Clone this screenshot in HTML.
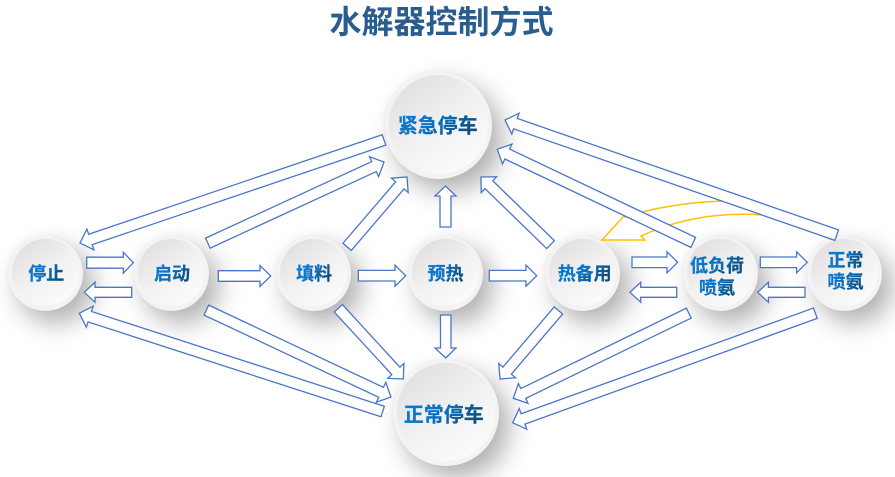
<!DOCTYPE html>
<html><head><meta charset="utf-8"><style>
html,body{margin:0;padding:0;background:#fff}
#p{position:relative;width:895px;height:477px;overflow:hidden;background:#fff}
.n{position:absolute;border-radius:50%;background:#f3f3f3;box-shadow:10px 12px 26px rgba(0,0,0,.32),-1px -1px 4px rgba(0,0,0,.03)}
.n i{position:absolute;left:4px;top:3px;right:4px;bottom:5px;border-radius:50%;background:linear-gradient(145deg,#dfdcdc 5%,#f2f1f1 50%,#fcfcfc 90%)}
svg{position:absolute;left:0;top:0}
text{font-family:"Liberation Sans","Noto Sans CJK SC",sans-serif;font-weight:700;text-anchor:middle;fill:url(#tg);stroke:url(#tg);stroke-width:.25}
.a polygon{fill:#fff;stroke:#4a76c6;stroke-width:1.3}
</style></head><body><div id="p">
<div class="n" style="left:8px;top:236px;width:75px;height:75px"><i></i></div>
<div class="n" style="left:134px;top:236px;width:75px;height:75px"><i></i></div>
<div class="n" style="left:276px;top:236px;width:75px;height:75px"><i></i></div>
<div class="n" style="left:408px;top:236px;width:75px;height:75px"><i></i></div>
<div class="n" style="left:545px;top:236px;width:75px;height:75px"><i></i></div>
<div class="n" style="left:683px;top:236px;width:75px;height:75px"><i></i></div>
<div class="n" style="left:807px;top:236px;width:75px;height:75px"><i></i></div>
<div class="n" style="left:385px;top:72px;width:107px;height:107px"><i></i></div>
<div class="n" style="left:393px;top:360px;width:106px;height:106px"><i></i></div>
<svg width="895" height="477" viewBox="0 0 895 477" xmlns="http://www.w3.org/2000/svg">
<defs><linearGradient id="tg" x1="0" y1="0" x2="1" y2="0.3"><stop offset="0" stop-color="#0a7cd8"/><stop offset=".55" stop-color="#0a70c0"/><stop offset="1" stop-color="#0d5080"/></linearGradient></defs>
<text x="441.5" y="33" font-size="32" style="fill:#2a5d8f;stroke:none">水解器控制方式</text>

<path d="M602 240 L623 217 L627 217 C650 208 690 202 723 201 L763 215 C720 212 680 218 641 236 L645 240 Z" fill="#fff" stroke="#ffc000" stroke-width="1.5"/>
<path d="M825 235 L831 240" fill="none" stroke="#ffc000" stroke-width="1.5"/>

<g class="a">
<polygon transform="matrix(-.947 .321 -.321 -.947 80 243)" points="-321,-5.5 -11,-5.5 -11,-11 0,0 -11,11 -11,5.5 -321,5.5"/>
<polygon transform="matrix(.908 -.418 .418 .908 384 162)" points="-194,-5.5 -11,-5.5 -11,-11 0,0 -11,11 -11,5.5 -194,5.5"/>
<polygon transform="matrix(.651 -.759 .759 .651 407 177)" points="-92,-5.5 -11,-5.5 -11,-11 0,0 -11,11 -11,5.5 -92,5.5"/>
<polygon points="440,227 440,196 435,196 445.5,186 456,196 451,196 451,227"/>
<polygon transform="matrix(-.717 -.697 .697 -.717 481 177)" points="-97,-5.5 -11,-5.5 -11,-11 0,0 -11,11 -11,5.5 -97,5.5"/>
<polygon transform="matrix(-.903 -.429 .429 -.903 497.3 149.3)" points="-217,-5.5 -11,-5.5 -11,-11 0,0 -11,11 -11,5.5 -217,5.5"/>
<polygon transform="matrix(-.945 -.328 .328 -.945 505 120)" points="-351,-5.5 -11,-5.5 -11,-11 0,0 -11,11 -11,5.5 -351,5.5"/>
<polygon transform="matrix(.677 .736 -.736 .677 403.3 379)" points="-96,-5.5 -11,-5.5 -11,-11 0,0 -11,11 -11,5.5 -96,5.5"/>
<polygon points="440.5,315 440.5,348 435,348 445.7,358 456,348 451,348 451,315"/>
<polygon transform="matrix(.905 .426 -.426 .905 391 397)" points="-204,-5.5 -11,-5.5 -11,-11 0,0 -11,11 -11,5.5 -204,5.5"/>
<polygon transform="matrix(-.951 -.308 .308 -.951 79.3 313.3)" points="-319,-5.5 -11,-5.5 -11,-11 0,0 -11,11 -11,5.5 -319,5.5"/>
<polygon transform="matrix(-.649 .761 -.761 -.649 500 379)" points="-90,-5.5 -11,-5.5 -11,-11 0,0 -11,11 -11,5.5 -90,5.5"/>
<polygon transform="matrix(-.9 .437 -.437 -.9 513.3 398.3)" points="-195,-5.5 -11,-5.5 -11,-11 0,0 -11,11 -11,5.5 -195,5.5"/>
<polygon transform="matrix(-.94 .34 -.34 -.94 512.7 422.7)" points="-322,-5.5 -11,-5.5 -11,-11 0,0 -11,11 -11,5.5 -322,5.5"/>

<polygon transform="translate(133.3 262.7)" points="-46.6,-5.5 -10,-5.5 -10,-10.5 0,0 -10,10.5 -10,5.5 -46.6,5.5"/>
<polygon transform="translate(84.3 292.3) rotate(180)" points="-47.4,-5 -10.7,-5 -10.7,-10 0,0 -10.7,10 -10.7,5 -47.4,5"/>
<polygon transform="translate(270.7 276)" points="-52.4,-5.3 -10.7,-5.3 -10.7,-10.5 0,0 -10.7,10.5 -10.7,5.3 -52.4,5.3"/>
<polygon transform="translate(405.7 275.7)" points="-47.4,-5.3 -10.7,-5.3 -10.7,-10.5 0,0 -10.7,10.5 -10.7,5.3 -47.4,5.3"/>
<polygon transform="translate(536.7 275.7)" points="-47.4,-5.3 -10.7,-5.3 -10.7,-10.5 0,0 -10.7,10.5 -10.7,5.3 -47.4,5.3"/>
<polygon transform="translate(677.7 262.3)" points="-45.7,-5.3 -10.7,-5.3 -10.7,-10.5 0,0 -10.7,10.5 -10.7,5.3 -45.7,5.3"/>
<polygon transform="translate(630 292.3) rotate(180)" points="-46.7,-5 -10.7,-5 -10.7,-10 0,0 -10.7,10 -10.7,5 -46.7,5"/>
<polygon transform="translate(807.3 262.3)" points="-47,-5.3 -10.7,-5.3 -10.7,-10.5 0,0 -10.7,10.5 -10.7,5.3 -47,5.3"/>
<polygon transform="translate(757.7 292.3) rotate(180)" points="-47.3,-5 -10.7,-5 -10.7,-10 0,0 -10.7,10 -10.7,5 -47.3,5"/>
</g>

<text x="46.3" y="280" font-size="18">停止</text>
<text x="172" y="280" font-size="18">启动</text>
<text x="314" y="280" font-size="18">填料</text>
<text x="445.5" y="280" font-size="18">预热</text>
<text x="584.7" y="280" font-size="18">热备用</text>
<text x="717" y="272" font-size="18">低负荷</text>
<text x="717" y="294" font-size="18">喷氨</text>
<text x="845.5" y="266.5" font-size="18">正常</text>
<text x="845.5" y="288" font-size="18">喷氨</text>
<text x="437.7" y="132.5" font-size="20">紧急停车</text>
<text x="443.8" y="421.5" font-size="20">正常停车</text>
</svg>
</div></body></html>
